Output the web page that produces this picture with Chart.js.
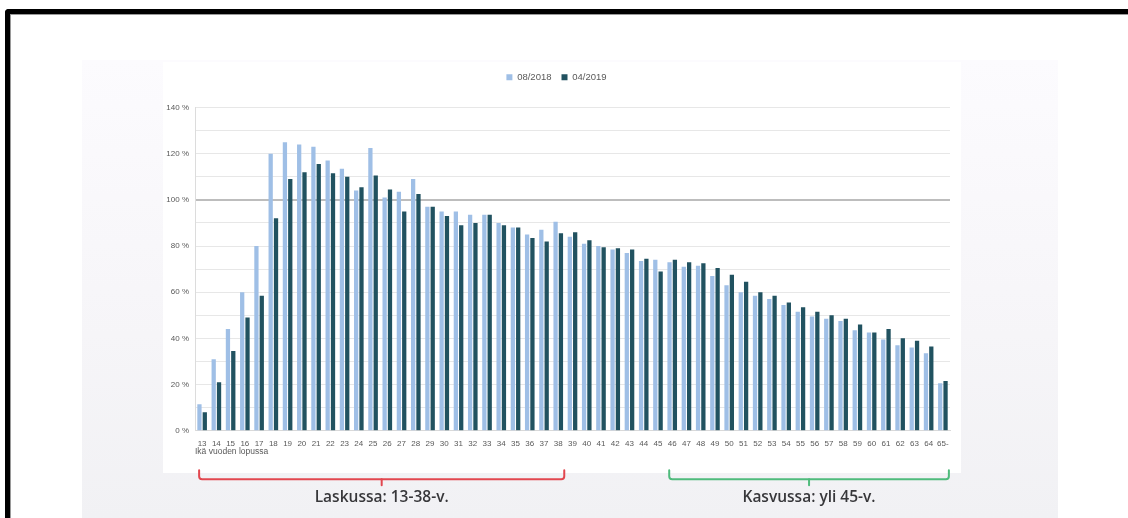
<!DOCTYPE html>
<html>
<head>
<meta charset="utf-8">
<script src="https://cdn.jsdelivr.net/npm/chart.js@4/dist/chart.umd.min.js"></script>
<style>
  html, body { margin: 0; padding: 0; width: 1128px; height: 518px; overflow: hidden; background: #fff; }
  #frame { position: absolute; left: 5px; top: 9px; width: 1200px; height: 600px;
           border-top: 5px solid #000; border-left: 5px solid #000; border-top-left-radius: 4px;
           box-shadow: inset 1px 1px 0 #9a9a9a; }
  #backdrop { position: absolute; left: 82px; top: 60px; width: 976px; height: 458px;
              background: linear-gradient(#fcfbfe, #f6f5f8 60%, #f1f1f4); }
  #panel { position: absolute; left: 163px; top: 62px; width: 798px; height: 411px; background: #fff; }
  #wrap { position: absolute; left: 0; top: 0; width: 1128px; height: 518px; }
</style>
</head>
<body>
<div id="frame"></div>
<div id="backdrop"></div>
<div id="panel"></div>
<div id="wrap"><canvas id="chart" width="1128" height="518"></canvas></div>
<script>
// Age at the end of the year
const ageLabels = [
  '13','14','15','16','17','18','19','20','21','22','23','24','25','26','27','28','29','30',
  '31','32','33','34','35','36','37','38','39','40','41','42','43','44','45','46','47','48',
  '49','50','51','52','53','54','55','56','57','58','59','60','61','62','63','64','65-'
];

// Share (%) per age, 08/2018
const share2018 = [
  11.5, 31, 44, 60, 80, 120, 125, 124, 123, 117, 113.5, 104, 122.5, 101, 103.5, 109, 97, 95,
  95, 93.5, 93.5, 90, 88, 85, 87, 90.5, 84, 81, 80, 78.5, 77, 73.5, 74, 73, 71, 71.5,
  67, 63, 60, 58.5, 57, 54.5, 51.5, 49.5, 48.5, 47.5, 43.5, 42.5, 39.5, 37, 36, 33.5, 20.5
];

// Share (%) per age, 04/2019
const share2019 = [
  8, 21, 34.5, 49, 58.5, 92, 109, 112, 115.5, 111.5, 110, 105.5, 110.5, 104.5, 95, 102.5, 97, 93,
  89, 90, 93.5, 89, 88, 83.5, 82, 85.5, 86, 82.5, 79.5, 79, 78.5, 74.5, 69, 74, 73, 72.5,
  70.5, 67.5, 64.5, 60, 58.5, 55.5, 53.5, 51.5, 50, 48.5, 46, 42.5, 44, 40, 39, 36.5, 21.5
];

const seriesNames = ['08/2018', '04/2019'];
const axisTitle = 'Ikä vuoden lopussa';

// Age ranges marked under the axis
const rangeFrom = ['13', '46'];
const rangeTo = ['38', '65-'];
const rangeText = ['Laskussa: 13-38-v.', 'Kasvussa: yli 45-v.'];
const rangeColor = ['#e2474f', '#4fbb7c'];

const tickFont = { family: '"Liberation Sans", Arial, sans-serif', size: 8 };

// Legend gets extra room below it so the plot starts lower
const legendRoom = {
  id: 'legendRoom',
  afterInit(chart) {
    const lg = chart.legend;
    if (!lg || lg._roomPatched) return;
    const fit = lg.fit;
    lg.fit = function () { fit.call(this); this.height += 15.5; };
    lg._roomPatched = true;
  }
};

// Brackets with captions under the x axis
const rangeBrackets = {
  id: 'rangeBrackets',
  afterDraw(chart) {
    const { ctx, chartArea } = chart;
    const x = chart.scales.x;
    const base = chartArea.bottom;
    rangeFrom.forEach((from, i) => {
      const a = x.getPixelForValue(ageLabels.indexOf(from)) - 3;
      const b = x.getPixelForValue(ageLabels.indexOf(rangeTo[i])) + 6;
      const mid = (a + b) / 2;
      const yTop = base + 39.5, yLine = base + 48.5;
      ctx.save();
      ctx.strokeStyle = rangeColor[i];
      ctx.lineWidth = 2;
      ctx.lineJoin = 'round';
      ctx.lineCap = 'round';
      ctx.beginPath();
      ctx.moveTo(a, yTop);
      ctx.lineTo(a, yLine - 3);
      ctx.quadraticCurveTo(a, yLine, a + 3, yLine);
      ctx.lineTo(b - 3, yLine);
      ctx.quadraticCurveTo(b, yLine, b, yLine - 3);
      ctx.lineTo(b, yTop);
      ctx.stroke();
      ctx.beginPath();
      ctx.moveTo(mid, yLine);
      ctx.lineTo(mid, yLine + 6);
      ctx.stroke();
      ctx.fillStyle = '#37373a';
      ctx.font = '600 15.5px "Open Sans", "Noto Sans", sans-serif';
      ctx.textAlign = 'center';
      ctx.textBaseline = 'middle';
      ctx.fillText(rangeText[i], mid, base + 66.5);
      ctx.restore();
    });
  }
};

new Chart(document.getElementById('chart'), {
  type: 'bar',
  data: {
    labels: ageLabels,
    datasets: [
      { label: seriesNames[0], data: share2018, backgroundColor: '#9fbfe6',
        categoryPercentage: 0.75, barPercentage: 0.8, borderWidth: 0 },
      { label: seriesNames[1], data: share2019, backgroundColor: '#215260',
        categoryPercentage: 0.75, barPercentage: 0.8, borderWidth: 0 }
    ]
  },
  options: {
    responsive: false,
    animation: false,
    events: [],
    layout: { padding: { left: 163, right: 178, top: 62.5, bottom: 61.3 } },
    plugins: {
      tooltip: { enabled: false },
      legend: {
        position: 'top',
        align: 'center',
        labels: {
          boxWidth: 6, boxHeight: 6, padding: 10,
          color: '#595959',
          font: { family: '"Liberation Sans", Arial, sans-serif', size: 9.5 }
        }
      }
    },
    scales: {
      x: {
        grid: { display: false, drawTicks: false },
        border: { display: true, color: '#d9d9d9' },
        ticks: { color: '#595959', font: tickFont, autoSkip: false, maxRotation: 0, minRotation: 0, padding: 8 },
        title: { display: true, text: axisTitle, align: 'start', color: '#595959',
                 font: { family: '"Liberation Sans", Arial, sans-serif', size: 8.5 }, padding: 0 },
        afterFit(s) { s.height = 26; }
      },
      y: {
        min: 0, max: 140,
        grid: {
          drawTicks: false,
          color: c => (c.tick && c.tick.value === 100) ? '#bdbdbd' : '#e7e7e7',
          lineWidth: c => (c.tick && c.tick.value === 100) ? 2 : 1
        },
        border: { display: true, color: '#dcdcdc' },
        ticks: {
          stepSize: 10, padding: 6, color: '#595959', font: tickFont,
          callback: v => (v % 20 === 0 ? v + ' %' : '')
        },
        afterFit(s) { s.width = 32; }
      }
    }
  },
  plugins: [legendRoom, rangeBrackets]
});
</script>
</body>
</html>
